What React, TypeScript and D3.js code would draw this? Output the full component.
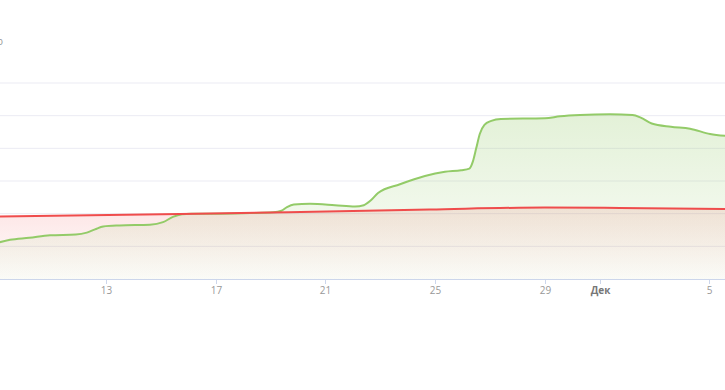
import React from "react";
import * as d3 from "d3";

// t = days since 2023-11-01 (fractional)
const greenT = [8, 8.5, 9.2, 9.96, 10.9, 11.3, 11.6, 11.9, 12.5, 13.6, 14.08, 14.44, 14.77, 15.1, 15.97, 17.25, 18.1, 18.4, 18.6, 18.85, 19.44, 20.35, 21.08, 21.4, 21.65, 21.92, 22.72, 23.63, 24.36, 24.95, 25.25, 25.38, 25.5, 25.63, 25.8, 26.05, 26.4, 28.01, 28.56, 29.29, 30.38, 31.2, 31.5, 31.9, 32.6, 33.3, 34.03, 34.6];
const greenV = [55, 60, 63, 67, 68, 71, 76, 80.5, 82, 83, 87, 95, 99, 100, 100, 101, 102, 104.5, 110, 114, 115, 113, 111, 113, 120, 131.6, 145, 157.6, 164, 166.5, 169, 180, 200, 222, 236, 242, 245, 246, 249, 251, 252, 251, 247, 238, 233, 230, 222, 219];

const redT = [8, 14.7, 19.1, 23.8, 28, 30.75, 34.6];
const redV = [95.7, 99.5, 102.6, 106.4, 109.4, 108.7, 107];

const yTicks = [0, 50, 100, 150, 200, 250, 300];
const xTickDays = [12, 16, 20, 24, 28, 30, 34];
const xTickLabels = ["13", "17", "21", "25", "29", "Дек", "5"];

const W = 725;
const H = 390;

export default function App() {
  const x = d3.scaleLinear().domain([12, 30]).range([106, 599.6]);
  const y = d3.scaleLinear().domain([0, 300]).range([279, 83]);

  const green = greenT.map((t, i) => ({ t, v: greenV[i] }));
  const red = redT.map((t, i) => ({ t, v: redV[i] }));

  const line = d3
    .line<{ t: number; v: number }>()
    .x((d) => x(d.t))
    .y((d) => y(d.v))
    .curve(d3.curveMonotoneX);
  const area = d3
    .area<{ t: number; v: number }>()
    .x((d) => x(d.t))
    .y0(y(0))
    .y1((d) => y(d.v))
    .curve(d3.curveMonotoneX);

  return (
    <div style={{ position: "fixed", left: 0, top: 0 }}>
      <svg width={W} height={H} style={{ display: "block", fontFamily: "'Open Sans', sans-serif" }}>
        <defs>
          <linearGradient id="gGreen" x1="0" y1={y(260)} x2="0" y2={y(0)} gradientUnits="userSpaceOnUse">
            <stop offset="0" stopColor="rgb(145,200,100)" stopOpacity={0.26} />
            <stop offset="1" stopColor="rgb(145,200,100)" stopOpacity={0.04} />
          </linearGradient>
          <linearGradient id="gRed" x1="0" y1={y(110)} x2="0" y2={y(0)} gradientUnits="userSpaceOnUse">
            <stop offset="0" stopColor="rgb(240,80,80)" stopOpacity={0.15} />
            <stop offset="1" stopColor="rgb(240,80,80)" stopOpacity={0.01} />
          </linearGradient>
        </defs>
        <rect width={W} height={H} fill="#fff" />
        <text x={3} y={45} fontSize={10} fill="#999" textAnchor="end">о</text>
        {yTicks.slice(1).map((v) => (
          <line key={v} x1={0} x2={W} y1={y(v)} y2={y(v)} stroke="#ebebf3" strokeWidth={1} />
        ))}
        <path d={area(red) || ""} fill="url(#gRed)" />
        <path d={area(green) || ""} fill="url(#gGreen)" />
        <path d={line(green) || ""} fill="none" stroke="#93cb68" strokeWidth={2} />
        <path d={line(red) || ""} fill="none" stroke="#ef4c4c" strokeWidth={2} />
        <line x1={0} x2={W} y1={y(0) + 0.5} y2={y(0) + 0.5} stroke="#ccd6eb" strokeWidth={1} />
        {xTickDays.map((t, i) => (
          <g key={t} transform={`translate(${Math.round(x(t)) + 0.5},0)`}>
            <line y1={y(0)} y2={y(0) + 5} stroke="#ccd6eb" />
            <text
              y={294}
              fontSize={10}
              fill={i === 5 ? "#777" : "#999"}
              fontWeight={i === 5 ? "bold" : "normal"}
              textAnchor="middle"
            >
              {xTickLabels[i]}
            </text>
          </g>
        ))}
      </svg>
    </div>
  );
}
